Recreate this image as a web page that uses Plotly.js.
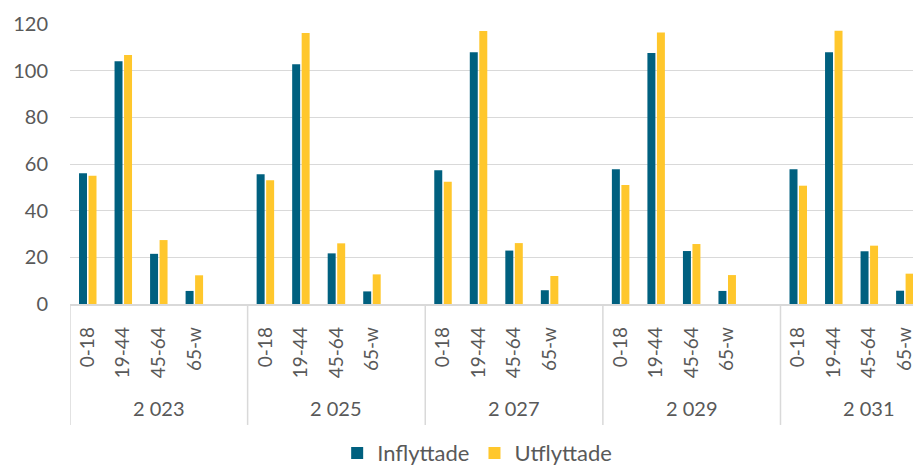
<!DOCTYPE html>
<html><head><meta charset="utf-8">
<script src="https://cdn.plot.ly/plotly-3.0.1.min.js"></script>
<style>html,body{margin:0;padding:0;background:#fff;overflow:hidden}</style>
</head><body><div id="chart" style="width:913px;height:470px"></div>
<script>
const years = ['2 023', '2 025', '2 027', '2 029', '2 031'];
const ages = ['0-18', '19-44', '45-64', '65-w'];
const inflyttade = [56, 104, 21.5, 5.6,  55.6, 102.7, 21.7, 5.4,  57.3, 107.9, 22.9, 5.9,  57.7, 107.6, 22.7, 5.6,  57.7, 107.9, 22.6, 5.7];
const utflyttade = [55, 106.7, 27.4, 12.3,  53, 116.1, 26, 12.7,  52.4, 117, 26.1, 12,  51, 116.4, 25.7, 12.4,  50.7, 117.1, 25, 13];
const seriesNames = ['Inflyttade', 'Utflyttade'];
const colors = ['#00607F', '#FFC72C'];
const yTicks = [0, 20, 40, 60, 80, 100, 120];

// category keys: each year has the 4 age groups plus one empty slot
const keys = [], slots = [], tickText = [];
years.forEach(y => {
  ages.forEach(a => { keys.push(y + '|' + a); slots.push(y + '|' + a); tickText.push(a); });
  slots.push(y + '|_');
});

const fontFam = 'Lato, "Open Sans", sans-serif';
const txtCol = '#595959';
const gridCol = '#D9D9D9';
const slotsPerGroup = ages.length + 1;

const traces = [inflyttade, utflyttade].map((vals, i) => ({
  type: 'bar', name: seriesNames[i], x: keys, y: vals,
  marker: {color: colors[i], line: {width: 0}},
  hoverinfo: 'x+y'
}));

const shapes = years.map((y, k) => ({
  type: 'line', xref: 'x', yref: 'paper',
  x0: k * slotsPerGroup - 0.5, x1: k * slotsPerGroup - 0.5, y0: 0, y1: -0.432,
  line: {color: gridCol, width: 1.5}
}));

const annotations = years.map(y => ({
  xref: 'x', yref: 'paper', x: y + '|' + ages[2], y: -0.372,
  text: y, showarrow: false, yanchor: 'middle', xanchor: 'center',
  font: {family: fontFam, size: 20, color: txtCol}
}));

const layout = {
  width: 913, height: 470,
  margin: {l: 70, r: 0, t: 24, b: 166},
  paper_bgcolor: '#fff', plot_bgcolor: '#fff',
  font: {family: fontFam, size: 20, color: txtCol},
  barmode: 'group', bargap: 0.465, bargroupgap: 0.16,
  xaxis: {
    type: 'category', categoryorder: 'array', categoryarray: slots,
    range: [-0.5, 23.23], tickmode: 'array', tickvals: keys, ticktext: tickText,
    tickangle: -90, ticks: '', ticklabelstandoff: 14, automargin: false,
    showline: true, linecolor: gridCol, linewidth: 1.5, showgrid: false,
    tickfont: {family: fontFam, size: 19, color: txtCol}, fixedrange: true
  },
  yaxis: {
    range: [0, 120], tickmode: 'array', tickvals: yTicks, automargin: false,
    showgrid: true, gridcolor: gridCol, gridwidth: 1, zeroline: false,
    ticks: '', ticklabelstandoff: 21, showline: false,
    tickfont: {family: fontFam, size: 20, color: txtCol}, fixedrange: true
  },
  shapes: shapes, annotations: annotations,
  showlegend: true,
  legend: {orientation: 'h', x: 0.483, xanchor: 'center', yref: 'container', y: 0.036, yanchor: 'middle',
    font: {family: fontFam, size: 22, color: txtCol}, traceorder: 'normal', itemwidth: 30}
};
Plotly.newPlot('chart', traces, layout, {displayModeBar: false, staticPlot: true});
</script></body></html>
